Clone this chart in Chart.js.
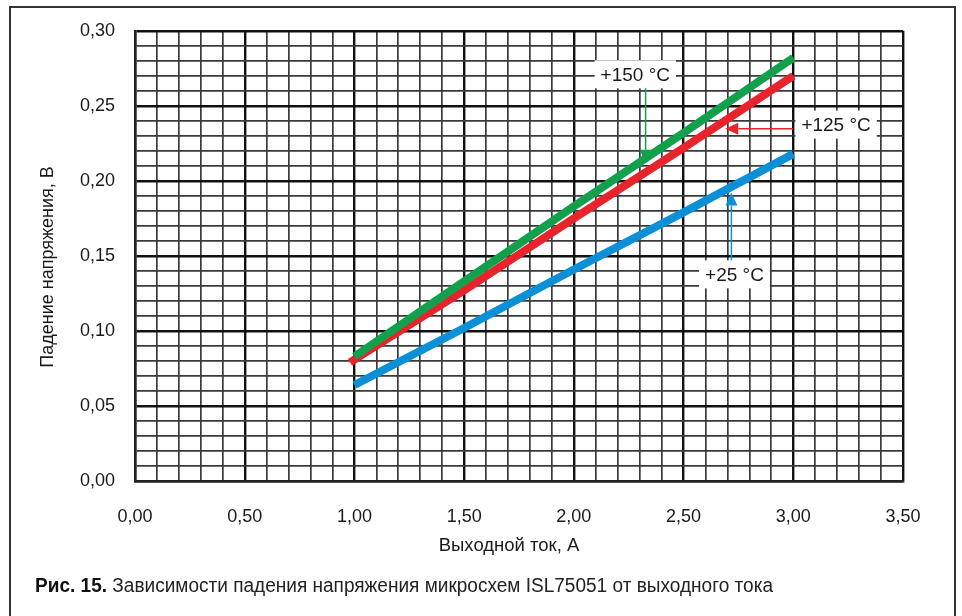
<!DOCTYPE html>
<html><head><meta charset="utf-8">
<script src="https://cdn.jsdelivr.net/npm/chart.js@4/dist/chart.umd.min.js"></script>
<style>html,body{margin:0;padding:0;background:#fff}#wrap{width:962px;height:616px;position:relative}</style>
</head><body><div id="wrap"><canvas id="c" width="962" height="616"></canvas></div>
<script>
// Data
const currents = [1.0, 1.5, 2.0, 2.5, 3.0];
const currentsRed = [0.98, 1.5, 2.0, 2.5, 3.0];
const drop150 = [0.083, 0.133, 0.183, 0.232, 0.282];
const drop125 = [0.079, 0.127, 0.175, 0.222, 0.270];
const drop25  = [0.064, 0.102, 0.141, 0.179, 0.218];
const seriesLabels = ['+150 °C', '+125 °C', '+25 °C'];
const xTitle = 'Выходной ток, А';
const yTitle = 'Падение напряжения, В';
const captionBold = 'Рис. 15.';
const captionText = ' Зависимости падения напряжения микросхем ISL75051 от выходного тока';
// annotation anchors in data units: [labelX, labelY, arrowFromX, arrowFromY, arrowToX, arrowToY]
const annot150 = [2.28, 0.271, 2.327, 0.262, 2.327, 0.212];
const annot125 = [3.195, 0.2375, 3.0, 0.2348, 2.69, 0.2348];
const annot25  = [2.732, 0.1377, 2.718, 0.1445, 2.718, 0.1922];

const COLORS = ['#12a04c', '#e8232b', '#0b90d8'];
const pts = (xs, ys) => xs.map((x, i) => ({x, y: ys[i]}));
const isMajor = (v, step) => Math.abs(v / step - Math.round(v / step)) < 1e-6;
const fmt = v => v.toFixed(2).replace('.', ',');
const FAM = '"Liberation Sans", Arial, sans-serif';

const decor = {
  id: 'decor',
  beforeDraw(chart) {
    const ctx = chart.ctx;
    ctx.save();
    ctx.fillStyle = '#fff';
    ctx.fillRect(0, 0, chart.width, chart.height);
    ctx.strokeStyle = '#333';
    ctx.lineWidth = 2;
    ctx.strokeRect(10, 7, 945, 640);
    ctx.restore();
  },
  afterDatasetsDraw(chart) {
    const ctx = chart.ctx;
    const xs = chart.scales.x, ys = chart.scales.y;
    const px = v => xs.getPixelForValue(v), py = v => ys.getPixelForValue(v);
    const anns = [annot150, annot125, annot25];
    ctx.save();
    anns.forEach((a, i) => {
      const col = COLORS[i];
      const x1 = px(a[2]), y1 = py(a[3]), x2 = px(a[4]), y2 = py(a[5]);
      const ang = Math.atan2(y2 - y1, x2 - x1);
      const hl = 13, hw = 6;
      ctx.strokeStyle = col; ctx.fillStyle = col; ctx.lineWidth = 1.5;
      ctx.beginPath(); ctx.moveTo(x1, y1);
      ctx.lineTo(x2 - Math.cos(ang) * hl, y2 - Math.sin(ang) * hl); ctx.stroke();
      ctx.beginPath();
      ctx.moveTo(x2, y2);
      ctx.lineTo(x2 - Math.cos(ang) * hl - Math.sin(ang) * hw, y2 - Math.sin(ang) * hl + Math.cos(ang) * hw);
      ctx.lineTo(x2 - Math.cos(ang) * hl + Math.sin(ang) * hw, y2 - Math.sin(ang) * hl - Math.cos(ang) * hw);
      ctx.closePath(); ctx.fill();
      // label box
      ctx.font = '19px ' + FAM;
      const t = seriesLabels[i];
      const w = ctx.measureText(t).width + 12, h = 28;
      const cx = px(a[0]), cy = py(a[1]);
      ctx.fillStyle = '#fff';
      ctx.fillRect(cx - w / 2, cy - h / 2, w, h);
      ctx.fillStyle = '#1a1a1a';
      ctx.textAlign = 'center'; ctx.textBaseline = 'middle';
      ctx.fillText(t, cx, cy + 1);
    });
    ctx.restore();
  },
  afterDraw(chart) {
    const ctx = chart.ctx;
    ctx.save();
    ctx.fillStyle = '#1a1a1a';
    ctx.textAlign = 'center'; ctx.textBaseline = 'middle';
    ctx.font = '18.5px ' + FAM;
    ctx.fillText(xTitle, 509, 546);
    ctx.save();
    ctx.font = '18px ' + FAM;
    ctx.translate(48, 267);
    ctx.rotate(-Math.PI / 2);
    ctx.fillText(yTitle, 0, 0);
    ctx.restore();
    // caption, condensed horizontally
    ctx.textAlign = 'left'; ctx.textBaseline = 'alphabetic';
    const fb = 'bold 20px ' + FAM;
    const fn = '20px ' + FAM;
    ctx.font = fb; const wb = ctx.measureText(captionBold).width;
    ctx.font = fn; const wn = ctx.measureText(captionText).width;
    const sx = (773 - 35) / (wb + wn);
    ctx.translate(35, 592);
    ctx.scale(sx, 1);
    ctx.font = fb; ctx.fillStyle = '#111'; ctx.fillText(captionBold, 0, 0);
    ctx.font = fn; ctx.fillStyle = '#222'; ctx.fillText(captionText, wb, 0);
    ctx.restore();
  }
};

new Chart(document.getElementById('c'), {
  type: 'scatter',
  data: {
    datasets: [
      {label: seriesLabels[0], data: pts(currents, drop150), borderColor: COLORS[0], backgroundColor: COLORS[0]},
      {label: seriesLabels[1], data: pts(currentsRed, drop125), borderColor: COLORS[1], backgroundColor: COLORS[1]},
      {label: seriesLabels[2], data: pts(currents, drop25), borderColor: COLORS[2], backgroundColor: COLORS[2]}
    ].map(d => Object.assign(d, {showLine: true, pointRadius: 0, borderWidth: 8, borderCapStyle: 'butt', tension: 0}))
  },
  options: {
    responsive: false, animation: false,
    layout: {padding: {left: 0, top: 30, right: 59, bottom: 0}},
    plugins: {legend: {display: false}, tooltip: {enabled: false}},
    scales: {
      x: {
        type: 'linear', min: 0, max: 3.5,
        afterFit: s => { s.height = 135; },
        ticks: {stepSize: 0.1, autoSkip: false, maxRotation: 0, padding: 25, color: '#1a1a1a',
          font: {family: FAM, size: 18},
          callback: v => isMajor(v, 0.5) ? fmt(v) : ''},
        grid: {drawTicks: false, color: c => isMajor(c.tick.value, 0.5) ? '#111' : '#3a3a3a',
          lineWidth: c => isMajor(c.tick.value, 0.5) ? 2.4 : 1.7},
        border: {display: true, color: '#222', width: 2.5}
      },
      y: {
        type: 'linear', min: 0, max: 0.3,
        afterFit: s => { s.width = 135; },
        ticks: {stepSize: 0.01, autoSkip: false, padding: 20, color: '#1a1a1a',
          font: {family: FAM, size: 18},
          callback: v => isMajor(v, 0.05) ? fmt(v) : ''},
        grid: {drawTicks: false, color: c => isMajor(c.tick.value, 0.05) ? '#111' : '#3a3a3a',
          lineWidth: c => isMajor(c.tick.value, 0.05) ? 2.4 : 1.7},
        border: {display: true, color: '#222', width: 2.5}
      }
    }
  },
  plugins: [decor]
});
</script></body></html>
